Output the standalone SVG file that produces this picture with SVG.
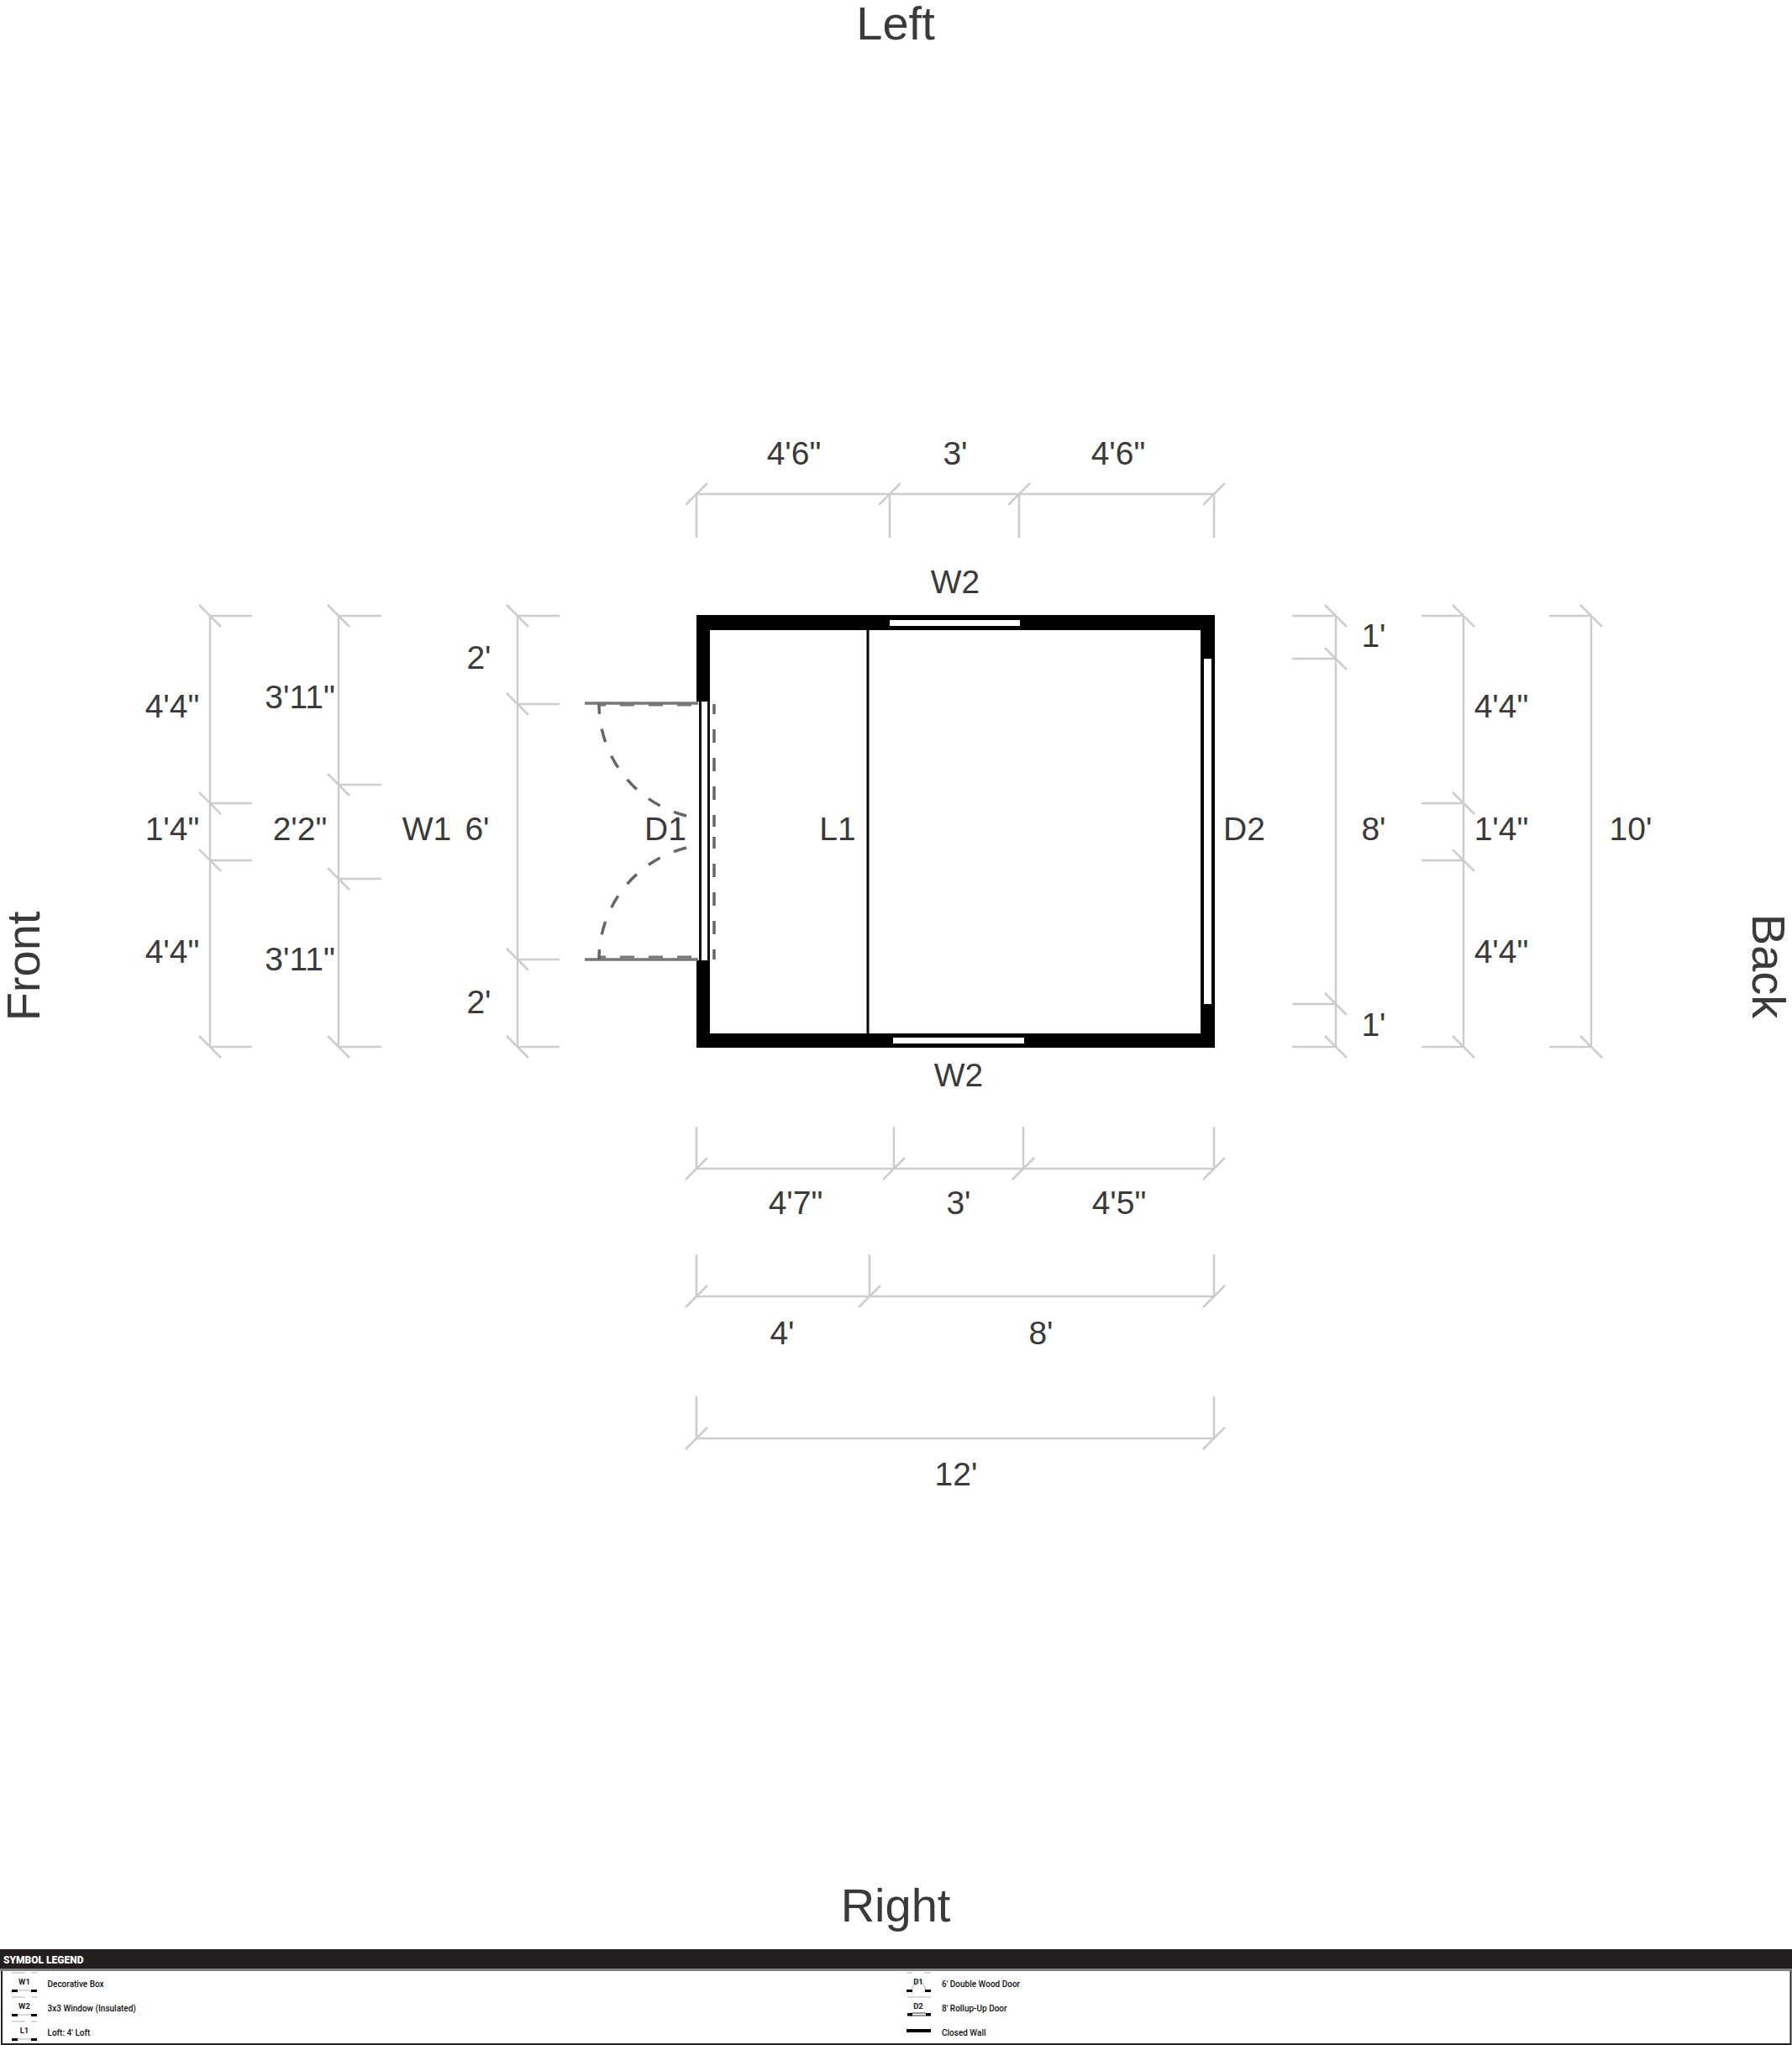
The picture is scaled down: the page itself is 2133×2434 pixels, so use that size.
<svg xmlns="http://www.w3.org/2000/svg" width="2133" height="2434" viewBox="0 0 2133 2434">
<style>
text{font-family:"Liberation Sans",Arial,sans-serif;fill:#3a3a3a;font-size:39px;text-anchor:middle}
.t{font-size:56px}
.d path{fill:none;stroke:#cdcdcd;stroke-width:2.500}
.w{fill:#000}
.dash{fill:none;stroke:#666;stroke-width:3.500;stroke-dasharray:16 18;stroke-dashoffset:4}
.leg{font-family:Roboto,"Liberation Sans",sans-serif;font-size:10px;font-weight:500;fill:#111;text-anchor:start}
.lab{font-family:Roboto,"Liberation Sans",sans-serif;font-size:9.500px;font-weight:700;fill:#222}
.k{fill:#000}.l{stroke:#ccc;stroke-width:1.500;fill:none}
</style>
<rect width="2133" height="2434" fill="#fff"/>
<g id="titles">
<text class="t" x="1066" y="47">Left</text>
<text class="t" x="1066" y="2287">Right</text>
<text class="t" transform="translate(47 1150) rotate(-90)">Front</text>
<text class="t" transform="translate(2086 1150) rotate(90)">Back</text>
</g>
<g id="shed">
<path class="w" d="M829 732H1446V1247H829ZM845 750V1230H1429V750Z" fill-rule="evenodd"/>
<rect x="1031.500" y="750" width="3" height="480" class="k"/>
</g>
<g id="W2-top"><rect x="1059" y="738" width="155" height="7" fill="#fff"/><text x="1137" y="706">W2</text></g>
<g id="W2-bottom"><rect x="1063" y="1235" width="156" height="7" fill="#fff"/><text x="1141" y="1293">W2</text></g>
<g id="D2"><rect x="1433" y="784" width="9" height="411" fill="#fff"/><text x="1481" y="1000">D2</text></g>
<g id="L1"><text x="997" y="1000">L1</text></g>
<g id="W1"><rect x="829" y="835" width="17" height="308" fill="#fff"/><path d="M833.500 835V1143M843.500 835V1143" stroke="#111" stroke-width="3" fill="none"/><text x="508" y="1000">W1</text></g>
<g id="D1">
<path d="M696 837H831M696 1142H831" stroke="#777" stroke-width="3.500" fill="none"/>
<path d="M713 839H829M713 1139H829" fill="none" stroke="#777" stroke-width="3" stroke-dasharray="8 17 17 17 17 17 17"/>
<path class="dash" d="M850 838V984M850 1142V996"/>
<path class="dash" d="M713 838A137 137 0 0 0 817 971M713 1142A137 137 0 0 1 817 1009"/>
<text x="792" y="1000">D1</text>
</g>
<g id="dimensions" class="d">
<g id="dim-top"><path d="M829 588H1445M829 640V588M1059 640V588M1213 640V588M1445 640V588M816 601L842 575M1046 601L1072 575M1200 601L1226 575M1432 601L1458 575"/>
<text x="945" y="553">4'6"</text><text x="1137" y="553">3'</text><text x="1331" y="553">4'6"</text></g>
<g id="dim-left-1"><path d="M250 733V1246M300 733H250M300 956H250M300 1024H250M300 1246H250M237 720L263 746M237 943L263 969M237 1011L263 1037M237 1233L263 1259"/>
<text x="205" y="854">4'4"</text><text x="205" y="1000">1'4"</text><text x="205" y="1146">4'4"</text></g>
<g id="dim-left-2"><path d="M403 733V1246M454 733H403M454 934H403M454 1046H403M454 1246H403M390 720L416 746M390 921L416 947M390 1033L416 1059M390 1233L416 1259"/>
<text x="357" y="843">3'11"</text><text x="357" y="1000">2'2"</text><text x="357" y="1155">3'11"</text></g>
<g id="dim-left-3"><path d="M616 733V1246M666 733H616M666 838H616M666 1142H616M666 1246H616M603 720L629 746M603 825L629 851M603 1129L629 1155M603 1233L629 1259"/>
<text x="570" y="796">2'</text><text x="568" y="1000">6'</text><text x="570" y="1206">2'</text></g>
<g id="dim-right-1"><path d="M1590 733V1246M1538 733H1590M1538 784H1590M1538 1195H1590M1538 1246H1590M1577 720L1603 746M1577 771L1603 797M1577 1182L1603 1208M1577 1233L1603 1259"/>
<text x="1635" y="770">1'</text><text x="1635" y="1000">8'</text><text x="1635" y="1233">1'</text></g>
<g id="dim-right-2"><path d="M1742 733V1246M1692 733H1742M1692 956H1742M1692 1024H1742M1692 1246H1742M1729 720L1755 746M1729 943L1755 969M1729 1011L1755 1037M1729 1233L1755 1259"/>
<text x="1787" y="854">4'4"</text><text x="1787" y="1000">1'4"</text><text x="1787" y="1146">4'4"</text></g>
<g id="dim-right-3"><path d="M1894 733V1246M1844 733H1894M1844 1246H1894M1881 720L1907 746M1881 1233L1907 1259"/>
<text x="1941" y="1000">10'</text></g>
<g id="dim-bottom-1"><path d="M829 1391H1445M829 1341V1391M1064 1341V1391M1218 1341V1391M1445 1341V1391M816 1404L842 1378M1051 1404L1077 1378M1205 1404L1231 1378M1432 1404L1458 1378"/>
<text x="947" y="1445">4'7"</text><text x="1141" y="1445">3'</text><text x="1332" y="1445">4'5"</text></g>
<g id="dim-bottom-2"><path d="M829 1543H1445M829 1493V1543M1035 1493V1543M1445 1493V1543M816 1556L842 1530M1022 1556L1048 1530M1432 1556L1458 1530"/>
<text x="931" y="1600">4'</text><text x="1239" y="1600">8'</text></g>
<g id="dim-bottom-3"><path d="M829 1712H1445M829 1662V1712M1445 1662V1712M816 1725L842 1699M1432 1725L1458 1699"/>
<text x="1138" y="1768">12'</text></g>
</g>
<g id="legend">
<rect x="0" y="2320" width="2133" height="23" fill="#231f20"/>
<rect x="0" y="2343" width="2133" height="3" fill="#808080"/>
<path d="M2 2346V2433H2131.500V2346" fill="none" stroke="#222" stroke-width="2"/>
<text x="4" y="2337" style="font-family:Roboto,'Liberation Sans',sans-serif;font-size:12px;font-weight:900;fill:#fff;text-anchor:start">SYMBOL LEGEND</text>
<g id="legend-W1"><path class="l" d="M14 2348H30M37 2348H44M20 2369H37"/><rect class="k" x="14" y="2368" width="7" height="3"/><rect class="k" x="37" y="2368" width="7" height="3"/><text class="lab" x="29" y="2362">W1</text><text class="leg" x="56.500" y="2365">Decorative Box</text></g>
<g id="legend-W2"><path class="l" d="M14 2377H30M37 2377H44M20 2398H37"/><rect class="k" x="14" y="2397" width="7" height="3"/><rect class="k" x="37" y="2397" width="7" height="3"/><text class="lab" x="29" y="2391">W2</text><text class="leg" x="56.500" y="2394">3x3 Window (Insulated)</text></g>
<g id="legend-L1"><path class="l" d="M14 2406H30M37 2406H44M20 2427H37"/><rect class="k" x="14" y="2426" width="7" height="3"/><rect class="k" x="37" y="2426" width="7" height="3"/><text class="lab" x="29" y="2420">L1</text><text class="leg" x="56.500" y="2423">Loft: 4' Loft</text></g>
<g id="legend-D1"><path class="l" d="M1079 2348H1086M1100 2348H1108M1085 2369Q1087 2360 1093 2358M1102 2369Q1100 2360 1095 2358"/><rect class="k" x="1079" y="2368" width="7" height="3"/><rect class="k" x="1101" y="2368" width="7" height="3"/><text class="lab" x="1093" y="2362">D1</text><text class="leg" x="1121" y="2365">6' Double Wood Door</text></g>
<g id="legend-D2"><path class="l" d="M1080 2377H1108"/><path d="M1085 2396H1102M1085 2399H1102" stroke="#333" stroke-width="1" fill="none"/><rect class="k" x="1080" y="2396" width="6" height="3.500"/><rect class="k" x="1102" y="2396" width="6" height="3.500"/><text class="lab" x="1093" y="2391">D2</text><text class="leg" x="1121" y="2394">8' Rollup-Up Door</text></g>
<g id="legend-wall"><rect class="k" x="1079" y="2415" width="29" height="4"/><text class="leg" x="1121" y="2423">Closed Wall</text></g>
</g>
</svg>
